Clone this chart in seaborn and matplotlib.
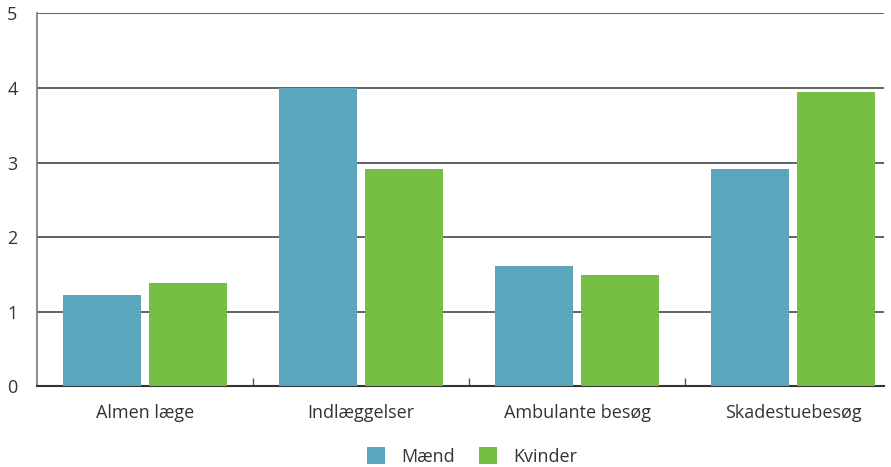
import matplotlib
matplotlib.use("Agg")
import matplotlib.pyplot as plt
import seaborn as sns
import pandas as pd
from matplotlib.patches import Patch

categories = ["Almen læge", "Indlæggelser", "Ambulante besøg", "Skadestuebesøg"]
maend = [1.22, 4.0, 1.61, 2.91]
kvinder = [1.38, 2.91, 1.49, 3.95]
series = ["Mænd", "Kvinder"]
colors = ["#5BA5BD", "#74BF44"]
yticks = [0, 1, 2, 3, 4, 5]

df = pd.DataFrame({
    "cat": categories * 2,
    "val": maend + kvinder,
    "sex": [series[0]] * 4 + [series[1]] * 4,
})

sns.set_theme(style="white")
plt.rcParams["font.family"] = ["Open Sans", "DejaVu Sans"]

fig = plt.figure(figsize=(8.91, 4.67), dpi=100)
ax = fig.add_axes([0.0415, 0.1734, 0.9506, 0.7977])

sns.barplot(data=df, x="cat", y="val", hue="sex", palette=colors,
            width=0.796, gap=0.093, ax=ax, legend=False, saturation=1,
            linewidth=0, edgecolor="none", zorder=3)

ax.set_ylim(0, 5)
ax.set_xlim(-0.5, 3.42)
ax.set_yticks(yticks)
ax.yaxis.grid(True, color="#555555", linewidth=1.3, zorder=1)
ax.set_axisbelow(True)
ax.set_xlabel("")
ax.set_ylabel("")

for s in ["top", "right"]:
    ax.spines[s].set_visible(False)
ax.spines["left"].set_color("#777777")
ax.spines["left"].set_linewidth(1.2)
ax.spines["bottom"].set_color("#333333")
ax.spines["bottom"].set_linewidth(1.5)

ax.tick_params(axis="y", length=0, pad=14, labelsize=13, labelcolor="#333333")
ax.tick_params(axis="x", which="major", length=0, pad=13, labelsize=13, labelcolor="#333333")
ax.set_xticks([0.5, 1.5, 2.5], minor=True)
ax.tick_params(axis="x", which="minor", bottom=True, direction="in", length=6,
               width=1, color="#555555")

handles = [Patch(facecolor=c, edgecolor="none") for c in colors]
fig.legend(handles, series, loc="lower center", bbox_to_anchor=(0.53, -0.032),
           ncol=2, frameon=False, fontsize=13, handlelength=1.0, handleheight=1.0,
           columnspacing=1.3, handletextpad=0.9, labelcolor="#333333")

fig.savefig("out.png", dpi=100)
